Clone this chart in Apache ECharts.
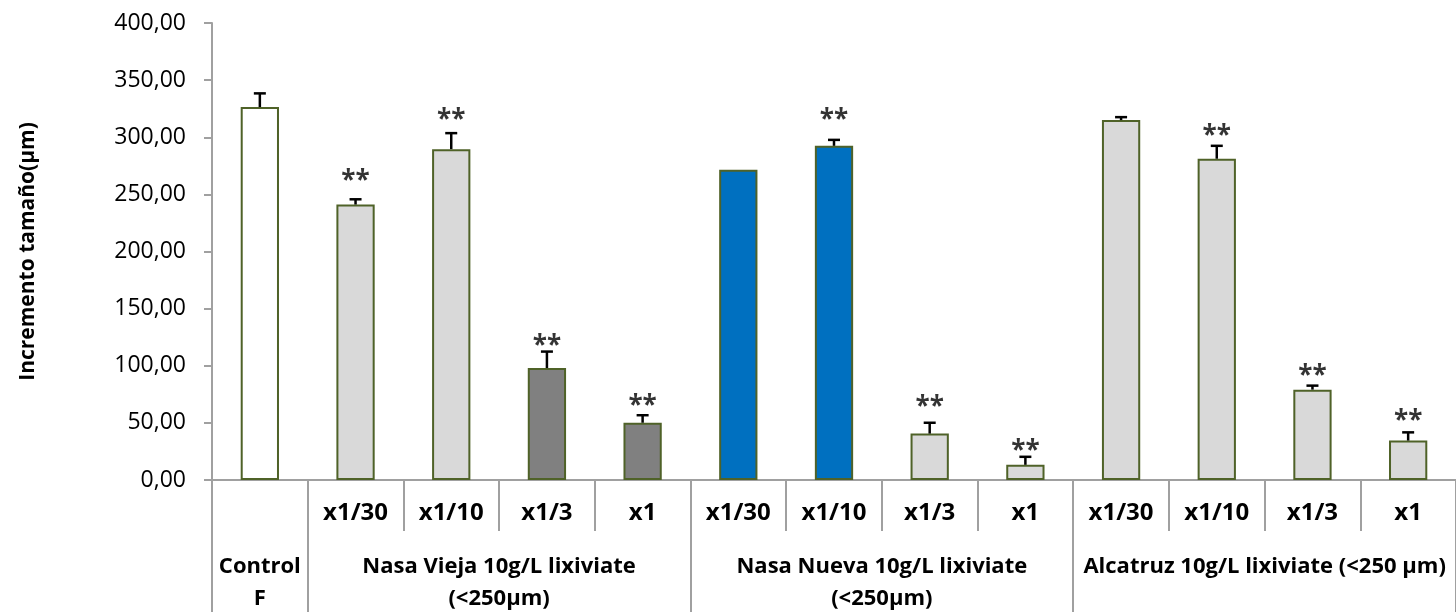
<!DOCTYPE html>
<html>
<head>
<meta charset="utf-8">
<script src="https://cdn.jsdelivr.net/npm/echarts@6/dist/echarts.min.js"></script>
<style>
  html, body { margin: 0; padding: 0; background: #ffffff; }
  #chart { width: 1456px; height: 615px; }
</style>
</head>
<body>
<div id="chart"></div>
<script>
// Treatment dilutions (first row under the axis)
const dilutions = ['', 'x1/30', 'x1/10', 'x1/3', 'x1',
                   'x1/30', 'x1/10', 'x1/3', 'x1',
                   'x1/30', 'x1/10', 'x1/3', 'x1'];

// Treatment groups (second row): name, first category index, number of categories
const groupNames = ['Control\nF',
                    'Nasa Vieja 10g/L lixiviate\n(<250µm)',
                    'Nasa Nueva 10g/L lixiviate\n(<250µm)',
                    'Alcatruz 10g/L lixiviate (<250 µm)'];
const groupStart = [0, 1, 5, 9];
const groupSize  = [1, 4, 4, 4];

// Mean size increment (µm) and its error
const meanIncrement = [326.4, 241.1, 289.6, 98.0, 50.1, 271.6, 292.5, 40.6, 13.3, 315.0, 281.2, 79.1, 34.5];
const errIncrement  = [12.0, 4.6, 14.0, 14.4, 6.6, 0, 5.2, 9.5, 7.0, 2.6, 11.3, 3.5, 7.2];

// Height at which the significance mark "**" sits (null = no mark)
const sigLevel = [null, 266.3, 319.4, 122.0, 69.6, null, 319.4, 68.7, 30.2, null, 305.5, 95.9, 56.3];

// Y axis ticks
const yMin = 0, yMax = 400, yStep = 50;

// ---- styling ----
const AXIS_GREY = '#a0a0a0';
const BORDER_GREEN = '#4f6228';
const FILL = { control: '#ffffff', light: '#d9d9d9', dark: '#808080', blue: '#0070c0' };
const barFills = [FILL.control, FILL.light, FILL.light, FILL.dark, FILL.dark,
                  FILL.blue, FILL.blue, FILL.light, FILL.light,
                  FILL.light, FILL.light, FILL.light, FILL.light];
const FONT = '"Open Sans", "Liberation Sans", sans-serif';

const nCat = dilutions.length;
const groupBounds = groupStart.concat([nCat]);
const groupCentres = groupStart.map((s, i) => s + groupSize[i] / 2);

const chart = echarts.init(document.getElementById('chart'), null, { renderer: 'canvas' });

chart.setOption({
  animation: false,
  backgroundColor: '#ffffff',
  grid: { left: 212, right: -10, top: 23, bottom: 132, containLabel: false },
  xAxis: [
    {
      type: 'category',
      data: dilutions,
      boundaryGap: true,
      axisLine: { show: true, lineStyle: { color: AXIS_GREY, width: 2 } },
      axisTick: { show: true, length: 51, lineStyle: { color: AXIS_GREY, width: 2 } },
      axisLabel: {
        interval: 0, margin: 21,
        fontFamily: FONT, fontWeight: 'bold', fontSize: 24, color: '#000000'
      },
      splitLine: { show: false }
    },
    {
      type: 'value',
      min: 0, max: nCat,
      position: 'bottom',
      axisLine: { show: false },
      axisTick: {
        show: true, length: 132, customValues: groupBounds,
        lineStyle: { color: AXIS_GREY, width: 2 }
      },
      axisLabel: {
        show: true, customValues: groupCentres, margin: 71,
        verticalAlign: 'top', lineHeight: 32,
        fontFamily: FONT, fontWeight: 'bold', fontSize: 22, color: '#000000',
        formatter: function (v) {
          const i = groupCentres.indexOf(v);
          return i >= 0 ? groupNames[i] : '';
        }
      },
      splitLine: { show: false }
    }
  ],
  yAxis: {
    type: 'value',
    min: yMin, max: yMax, interval: yStep,
    name: 'Incremento tamaño(µm)',
    nameLocation: 'middle',
    nameGap: 173,
    nameRotate: 90,
    nameTextStyle: { fontFamily: FONT, fontWeight: 'bold', fontSize: 21, color: '#000000' },
    axisLine: { show: true, lineStyle: { color: AXIS_GREY, width: 2 } },
    axisTick: { show: true, inside: false, length: 8, lineStyle: { color: AXIS_GREY, width: 2 } },
    axisLabel: {
      margin: 26, fontFamily: FONT, fontSize: 23, color: '#000000',
      formatter: v => v.toFixed(2).replace('.', ',')
    },
    splitLine: { show: false }
  },
  series: [
    {
      type: 'bar',
      xAxisIndex: 0,
      barWidth: '40%',
      data: meanIncrement.map((v, i) => ({
        value: v,
        itemStyle: { color: barFills[i], borderColor: BORDER_GREEN, borderWidth: 2 }
      }))
    },
    {
      // upper error whiskers
      type: 'custom',
      xAxisIndex: 0,
      z: 5,
      data: meanIncrement.map((v, i) => [i, v, v + errIncrement[i]]),
      renderItem: function (params, api) {
        const x = api.value(0);
        if (api.value(2) <= api.value(1)) return null;
        const base = api.coord([x, api.value(1)]);
        const top = api.coord([x, api.value(2)]);
        const half = 6;
        const style = { stroke: '#000000', lineWidth: 2.5 };
        return {
          type: 'group',
          children: [
            { type: 'line', shape: { x1: base[0], y1: base[1], x2: top[0], y2: top[1] }, style: style },
            { type: 'line', shape: { x1: top[0] - half, y1: top[1], x2: top[0] + half, y2: top[1] }, style: style }
          ]
        };
      }
    },
    {
      // significance marks
      type: 'scatter',
      xAxisIndex: 0,
      symbolSize: 0,
      z: 6,
      data: sigLevel.map((v, i) => (v === null ? null : [i, v])).filter(d => d !== null),
      label: {
        show: true, position: 'inside', formatter: '**', offset: [0, 6],
        fontFamily: FONT, fontWeight: 'bold', fontSize: 26, color: '#000000'
      }
    }
  ]
});
</script>
</body>
</html>
